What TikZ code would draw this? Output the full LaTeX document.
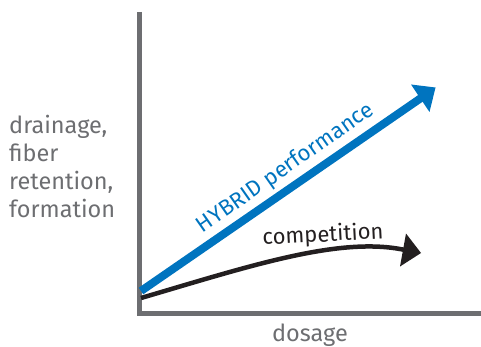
\documentclass[tikz,border=0pt]{standalone}
\usepackage{fontspec}
\setmainfont{Fira Sans}
\definecolor{axisgray}{HTML}{6D6E71}
\definecolor{hyblue}{HTML}{0074BF}
\definecolor{compblack}{HTML}{231F20}
\tikzset{
  axisline/.style={draw=axisgray, line width=4.5pt},
  lbl/.style={text=axisgray, font=\fontsize{23.5}{28}\selectfont, inner sep=0pt},
}
\begin{document}
\begin{tikzpicture}[x=1pt,y=-1pt]
\useasboundingbox (0,0) rectangle (481,347);
% axes
\coordinate (top) at (139.5,12);
\coordinate (origin) at (139.5,313.5);
\coordinate (right) at (481,313.5);
\draw[axisline] (top) -- (origin) -- (right);
% blue arrow
\coordinate (bs) at (141,291);
\coordinate (bb) at (421,98);
\draw[hyblue, line width=8pt] (bs) -- (bb);
\fill[hyblue] (411,84.5) -- (435.5,87.5) -- (429.5,112) -- cycle;
% black arrow
\coordinate (ks) at (141,298);
\coordinate (kb) at (405,250);
\draw[compblack, line width=4.5pt] (ks) .. controls (250,266) and (340,236) .. (kb);
\fill[compblack] (406,233.5) -- (421,253) -- (400,266.5) -- cycle;
% labels
\node[lbl, align=left, anchor=west] (ylab) at (9,166) {drainage,\\fiber\\retention,\\formation};
\node[lbl] (xlab) at (310,335) {dosage};
\node[text=hyblue, font=\fontsize{22.2}{24}\selectfont, inner sep=0pt, rotate=35] (hyb) at (285.5,168.5) {HYBRID performance};
\node[text=compblack, font=\fontsize{22}{24}\selectfont, inner sep=0pt, rotate=3] (comp) at (323,235.5) {competition};
\end{tikzpicture}
\end{document}
